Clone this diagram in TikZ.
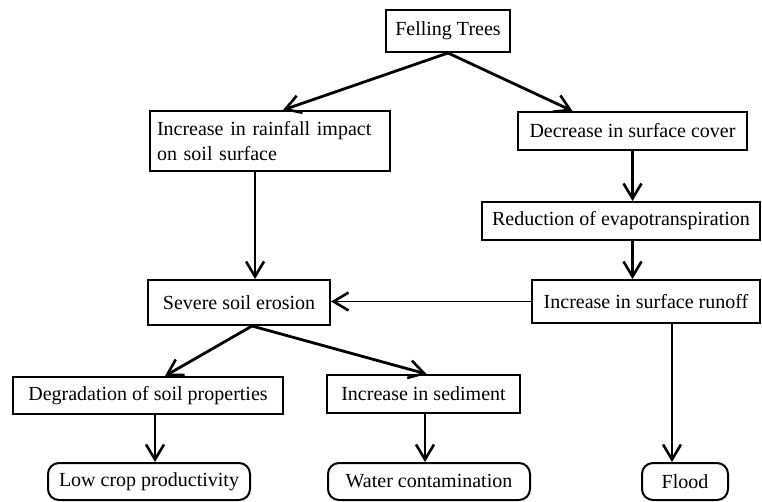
\documentclass[tikz,border=0pt]{standalone}
\usepackage{fontspec}
\setmainfont{Liberation Serif}
\usetikzlibrary{arrows.meta}
\tikzset{
  box/.style={draw, line width=2pt, rectangle, inner sep=4pt, font=\fontsize{20}{25}\selectfont},
  endbox/.style={box, rounded corners=11pt},
  flow/.style={line width=2.8pt, -{Straight Barb[length=15pt,width=18pt,line width=2.6pt]}}
}
\begin{document}
\begin{tikzpicture}[x=1pt, y=-1pt]
      \useasboundingbox (0,0) rectangle (762,502);
      \draw
        (448,31) node[box, minimum width=124pt, minimum height=42pt] (fell){Felling Trees}
        (270,141) node[box, minimum width=240pt, minimum height=60pt, text width=226pt, align=left] (rain){Increase in rainfall impact\\on soil surface}
        (632.5,131) node[box, minimum width=229pt, minimum height=38pt] (cover){Decrease in surface cover}
        (621,221) node[box, minimum width=278pt, minimum height=38pt] (evap){Reduction of evapotranspiration}
        (646,301.5) node[box, minimum width=228pt, minimum height=43pt] (runoff){Increase in surface runoff}
        (239,302.5) node[box, minimum width=182pt, minimum height=45pt] (erosion){Severe soil erosion}
        (148,395.5) node[box, minimum width=270pt, minimum height=37pt] (degrad){Degradation of soil properties}
        (423.5,394) node[box, minimum width=193pt, minimum height=38pt] (sedim){Increase in sediment}
        (149,481.5) node[endbox, minimum width=202pt, minimum height=37pt] (lowcrop){Low crop productivity}
        (429,481.5) node[endbox, minimum width=202pt, minimum height=37pt] (water){Water contamination}
        (685,481.5) node[endbox, minimum width=86pt, minimum height=37pt] (flood){Flood};
      \begin{scope}[flow]
        \draw (fell.south) to ([xshift=13pt]rain.north);
        \draw (fell.south) to ([xshift=-60pt]cover.north);
        \draw (cover.south) to (cover.south |- evap.north);
        \draw (cover.south |- evap.south) to (cover.south |- runoff.north);
        \draw ([xshift=-15pt]rain.south) to ([xshift=-15pt]rain.south |- erosion.north);
        \draw[line width=1.8pt] (runoff.west) to (runoff.west -| erosion.east);
        \draw ([xshift=13pt]erosion.south) to ([xshift=17pt]degrad.north);
        \draw ([xshift=13pt]erosion.south) to ([xshift=3pt]sedim.north);
        \draw ([xshift=7pt]degrad.south) to ([xshift=7pt]degrad.south |- lowcrop.north);
        \draw ([xshift=1.5pt]sedim.south) to ([xshift=1.5pt]sedim.south |- water.north);
        \draw ([xshift=26pt]runoff.south) to ([xshift=26pt]runoff.south |- flood.north);
      \end{scope}
    \end{tikzpicture}
\end{document}
